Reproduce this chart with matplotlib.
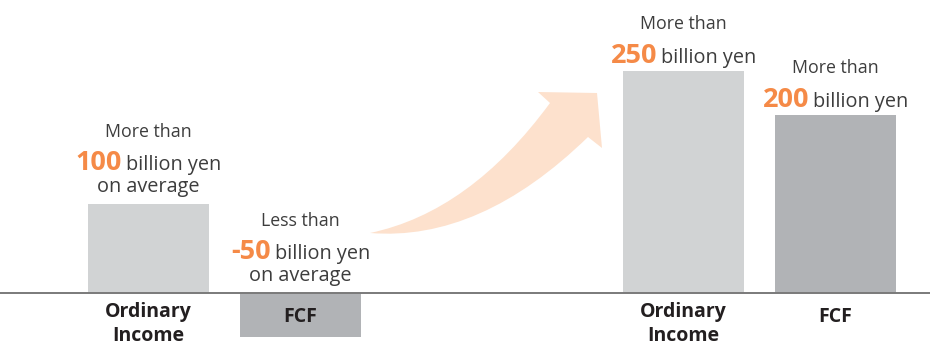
import numpy as np
import matplotlib
matplotlib.use("Agg")
import matplotlib.pyplot as plt
from matplotlib.patches import PathPatch
from matplotlib.path import Path

# data
categories = ["Ordinary\nIncome", "FCF", "Ordinary\nIncome", "FCF"]
values = [100, -50, 250, 200]
prefix = ["More than", "Less than", "More than", "More than"]
amount = ["100", "-50", "250", "200"]
suffix = ["on average", "on average", "", ""]

# styles
positions = [0, 1, 3.52, 4.52]
bar_colors = ["#d1d3d4", "#b1b3b6", "#d1d3d4", "#b1b3b6"]
orange = "#f58a47"
text_gray = "#3d3d3d"
plt.rcParams["font.family"] = ["Open Sans", "DejaVu Sans"]

W, H = 930, 341
fig = plt.figure(figsize=(W / 100, H / 100), dpi=100)
ax = fig.add_axes([0, 0, 1, 1])
ax.set_xlim(-0.977, 5.141)
ax.set_ylim(-54.8, 330.5)
ax.axis("off")

ax.bar(positions, values, width=0.796, color=bar_colors, zorder=1)
ax.axhline(0, color="#7a7a7a", lw=1.4, zorder=2)

# decorative curved arrow (figure pixel coords, y from top)
def fp(x, y):
    return (x / W, 1 - y / H)

verts = [fp(370, 233), fp(470, 212), fp(550, 103),
         fp(538, 92), fp(597, 93), fp(602, 148), fp(588, 137),
         fp(480, 242), fp(370, 233), fp(370, 233)]
codes = [Path.MOVETO, Path.CURVE3, Path.CURVE3,
         Path.LINETO, Path.LINETO, Path.LINETO, Path.LINETO,
         Path.CURVE3, Path.CURVE3, Path.CLOSEPOLY]
ax.add_patch(PathPatch(Path(verts, codes), transform=fig.transFigure,
                       facecolor="#fde1cd", edgecolor="none", zorder=0))

fig.canvas.draw()
renderer = fig.canvas.get_renderer()


def line_of_parts(xc, ybase, parts):
    # parts: list of (text, size, weight, color); centred at xc (display px)
    texts = []
    for s, size, weight, color in parts:
        t = fig.text(0, 0, s, fontsize=size, fontweight=weight, color=color,
                     ha="left", va="baseline", transform=None)
        texts.append(t)
    widths = [t.get_window_extent(renderer).width for t in texts]
    gap = 4
    total = sum(widths) + gap * (len(texts) - 1)
    x = xc - total / 2
    for t, w in zip(texts, widths):
        t.set_position((x, ybase))
        x += w + gap


for i, v in enumerate(values):
    xc, y0 = ax.transData.transform((positions[i], max(v, 0)))
    if suffix[i]:
        lines = [(67, [(prefix[i], 12.8, "normal", text_gray)]),
                 (34, [(amount[i], 19.5, "bold", orange),
                       ("billion yen", 14.3, "normal", text_gray)]),
                 (12, [(suffix[i], 14.3, "normal", text_gray)])]
    else:
        lines = [(42, [(prefix[i], 12.8, "normal", text_gray)]),
                 (8, [(amount[i], 19.5, "bold", orange),
                      ("billion yen", 14.3, "normal", text_gray)])]
    for off, parts in lines:
        line_of_parts(xc, y0 + off, parts)

    # category label below baseline
    xb, yb = ax.transData.transform((positions[i], 0))
    if "\n" in categories[i]:
        fig.text(xb, yb - 9, categories[i], ha="center", va="top",
                 fontsize=14, fontweight="bold", color="#231f20",
                 linespacing=1.3, transform=None)
    else:
        fig.text(xb, yb - 29, categories[i], ha="center", va="baseline",
                 fontsize=14, fontweight="bold", color="#231f20",
                 transform=None)

fig.savefig("out.png", dpi=100)
